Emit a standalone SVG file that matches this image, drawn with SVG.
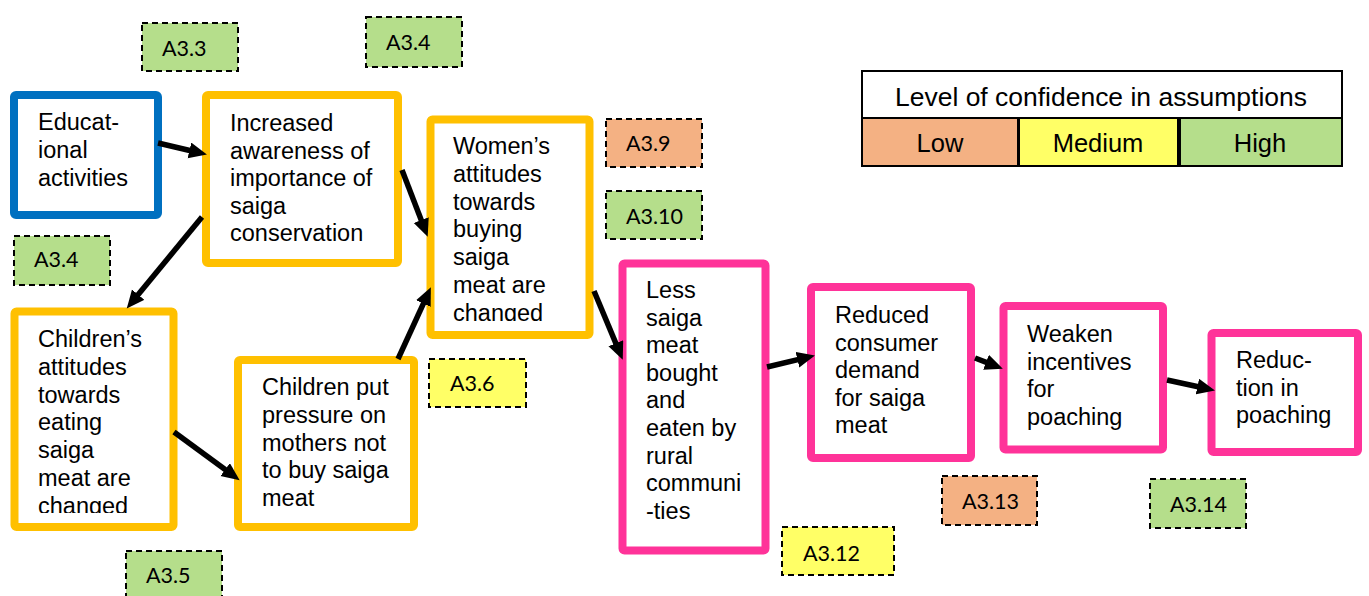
<svg xmlns="http://www.w3.org/2000/svg" width="1369" height="596" viewBox="0 0 1369 596">
<style>
.node{fill:#fff;stroke-width:8}
.blue{stroke:#0070C0}.gold{stroke:#FFC000}.pink{stroke:#FF3399}
.nt{font-family:"Liberation Sans",Arial,sans-serif;font-size:23.5px;fill:#000}
.lab{stroke:#000;stroke-width:2;stroke-dasharray:6,4}
.lt{font-family:Lato,"Open Sans",sans-serif;font-size:21.5px;fill:#000}
.low{fill:#F4B183}.med{fill:#FFFF66}.high{fill:#B5DE8B}
.leg{stroke:#000;stroke-width:2}
.legt{font-family:"Liberation Sans",Arial,sans-serif;font-size:25.5px;fill:#000;text-anchor:middle}
.conn{stroke:#000;stroke-width:5.5;fill:none;marker-end:url(#ah)}
</style>
<defs>
<marker id="ah" markerUnits="userSpaceOnUse" markerWidth="19" markerHeight="17" refX="8" refY="8" orient="auto">
<path d="M0,0 L18,8 L0,16 z" fill="#000"/>
</marker>
<clipPath id="clipC"><rect x="18" y="315" width="152" height="198"/></clipPath>
<clipPath id="clipW"><rect x="434" y="123" width="152" height="198"/></clipPath>
</defs>
<rect width="1369" height="596" fill="#fff"/>

<g id="legend">
<rect x="862" y="71" width="480" height="47" fill="#fff" class="leg"/>
<text x="1101" y="106" class="legt" font-size="23" textLength="412" lengthAdjust="spacingAndGlyphs">Level of confidence in assumptions</text>
<rect x="862" y="118" width="156" height="48" class="low leg"/>
<rect x="1019" y="118" width="159" height="48" class="med leg"/>
<rect x="1180" y="118" width="162" height="48" class="high leg"/>
<text x="940" y="152" class="legt">Low</text>
<text x="1098" y="152" class="legt">Medium</text>
<text x="1260" y="152" class="legt">High</text>
</g>

<g id="n-edu">
<rect x="14" y="95" width="144" height="120" rx="2" class="node blue"/>
<text class="nt"><tspan x="38" y="130">Educat-</tspan><tspan x="38" y="158">ional</tspan><tspan x="38" y="186">activities</tspan></text>
</g>
<g id="n-aware">
<rect x="206" y="95" width="192" height="168" rx="2" class="node gold"/>
<text class="nt"><tspan x="230" y="131">Increased</tspan><tspan x="230" y="158.5">awareness of</tspan><tspan x="230" y="186">importance of</tspan><tspan x="230" y="213.5">saiga</tspan><tspan x="230" y="241">conservation</tspan></text>
</g>
<g id="n-children">
<rect x="14.5" y="311.5" width="159" height="215.5" rx="2" class="node gold"/>
<text class="nt" clip-path="url(#clipC)"><tspan x="38" y="347">Children’s</tspan><tspan x="38" y="374.8">attitudes</tspan><tspan x="38" y="402.6">towards</tspan><tspan x="38" y="430.4">eating</tspan><tspan x="38" y="458.2">saiga</tspan><tspan x="38" y="486">meat are</tspan><tspan x="38" y="513.8">changed</tspan></text>
</g>
<g id="n-pressure">
<rect x="238" y="360" width="176" height="167" rx="2" class="node gold"/>
<text class="nt"><tspan x="262" y="395">Children put</tspan><tspan x="262" y="423">pressure on</tspan><tspan x="262" y="450.5">mothers not</tspan><tspan x="262" y="478">to buy saiga</tspan><tspan x="262" y="506">meat</tspan></text>
</g>
<g id="n-women">
<rect x="430.5" y="119.5" width="159" height="215.5" rx="2" class="node gold"/>
<text class="nt" clip-path="url(#clipW)"><tspan x="453" y="154">Women’s</tspan><tspan x="453" y="181.8">attitudes</tspan><tspan x="453" y="209.6">towards</tspan><tspan x="453" y="237.4">buying</tspan><tspan x="453" y="265.2">saiga</tspan><tspan x="453" y="293">meat are</tspan><tspan x="453" y="320.8">changed</tspan></text>
</g>
<g id="n-less">
<rect x="622.5" y="263.5" width="143" height="287" rx="2" class="node pink"/>
<text class="nt"><tspan x="646" y="298">Less</tspan><tspan x="646" y="325.6">saiga</tspan><tspan x="646" y="353.2">meat</tspan><tspan x="646" y="380.8">bought</tspan><tspan x="646" y="408.4">and</tspan><tspan x="646" y="436">eaten by</tspan><tspan x="646" y="463.6">rural</tspan><tspan x="646" y="491.2">communi</tspan><tspan x="646" y="518.8">-ties</tspan></text>
</g>
<g id="n-demand">
<rect x="811" y="287" width="160" height="171" rx="2" class="node pink"/>
<text class="nt"><tspan x="835" y="323">Reduced</tspan><tspan x="835" y="350.5">consumer</tspan><tspan x="835" y="378">demand</tspan><tspan x="835" y="405.5">for saiga</tspan><tspan x="835" y="433">meat</tspan></text>
</g>
<g id="n-weaken">
<rect x="1003.5" y="306" width="159.5" height="143.5" rx="2" class="node pink"/>
<text class="nt"><tspan x="1027" y="342">Weaken</tspan><tspan x="1027" y="369.5">incentives</tspan><tspan x="1027" y="397">for</tspan><tspan x="1027" y="424.5">poaching</tspan></text>
</g>
<g id="n-reduction">
<rect x="1211.5" y="333" width="146.5" height="119" rx="2" class="node pink"/>
<text class="nt"><tspan x="1236" y="368">Reduc-</tspan><tspan x="1236" y="395.5">tion in</tspan><tspan x="1236" y="423">poaching</tspan></text>
</g>

<g id="a33"><rect x="142" y="23" width="96" height="48" class="lab high"/><text x="162" y="56" class="lt">A3.3</text></g>
<g id="a34top"><rect x="366" y="17" width="96" height="50" class="lab high"/><text x="386" y="50" class="lt">A3.4</text></g>
<g id="a34left"><rect x="14" y="236" width="96" height="49" class="lab high"/><text x="34" y="267" class="lt">A3.4</text></g>
<g id="a35"><rect x="126" y="551" width="96" height="48" class="lab high"/><text x="146" y="583" class="lt">A3.5</text></g>
<g id="a36"><rect x="429" y="359" width="97" height="48" class="lab med"/><text x="450" y="391" class="lt">A3.6</text></g>
<g id="a39"><rect x="606" y="119" width="96" height="48" class="lab low"/><text x="626" y="151" class="lt">A3.9</text></g>
<g id="a310"><rect x="606" y="191" width="96" height="48" class="lab high"/><text x="626" y="224" class="lt">A3.10</text></g>
<g id="a312"><rect x="782" y="527" width="112" height="48" class="lab med"/><text x="803" y="561" class="lt">A3.12</text></g>
<g id="a313"><rect x="942" y="476" width="95" height="49" class="lab low"/><text x="962" y="509" class="lt">A3.13</text></g>
<g id="a314"><rect x="1150" y="479" width="96" height="49" class="lab high"/><text x="1170" y="512" class="lt">A3.14</text></g>

<g id="connectors">
<line x1="158" y1="143" x2="197.2" y2="152.2" class="conn"/>
<line x1="202" y1="217" x2="133.1" y2="300.8" class="conn"/>
<line x1="402" y1="170" x2="424.1" y2="227.5" class="conn"/>
<line x1="174" y1="432" x2="231.6" y2="474.3" class="conn"/>
<line x1="398" y1="359" x2="426.7" y2="296.3" class="conn"/>
<line x1="594" y1="291" x2="618.9" y2="350.6" class="conn"/>
<line x1="767" y1="367" x2="805.2" y2="357.9" class="conn"/>
<line x1="975" y1="358" x2="993.5" y2="365.1" class="conn"/>
<line x1="1167" y1="380" x2="1205.2" y2="388.3" class="conn"/>
</g>
</svg>
